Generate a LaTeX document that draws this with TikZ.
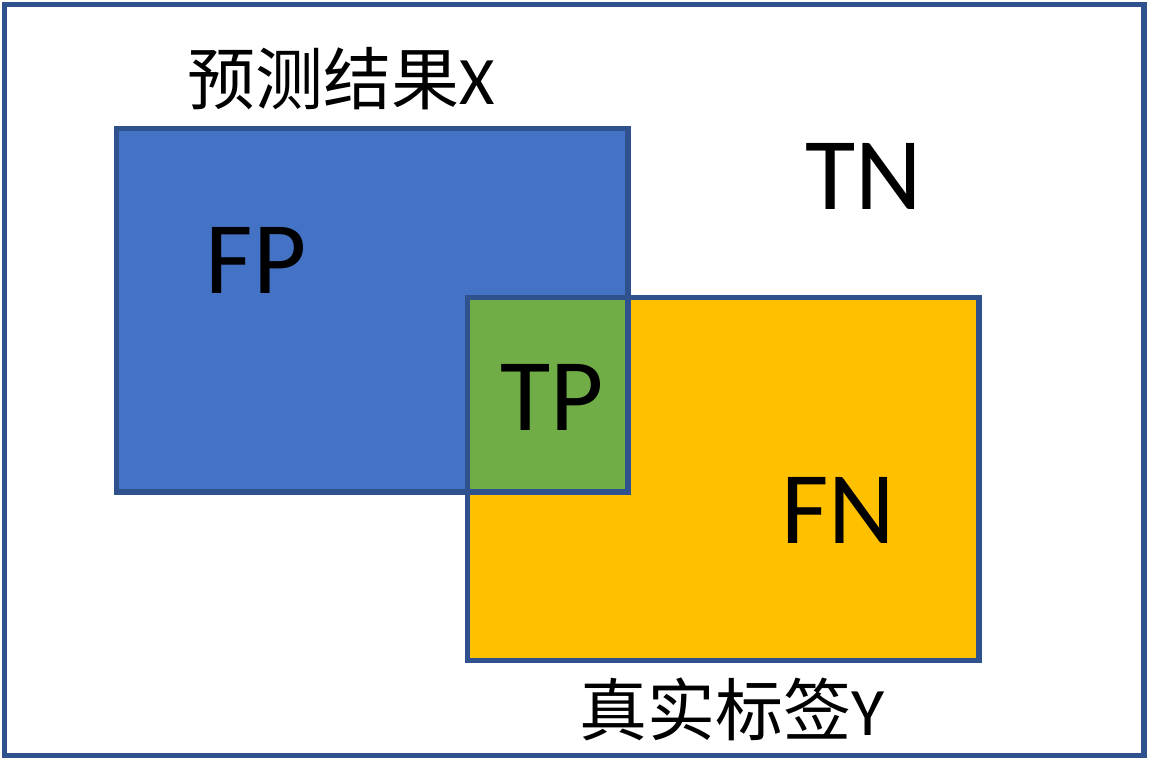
\documentclass[tikz,border=0pt]{standalone}
\usepackage{fontspec}
\setmainfont{Carlito}
\newfontfamily\cjk{Noto Sans CJK SC}
\definecolor{edgeblue}{HTML}{2F528F}
\definecolor{fillblue}{HTML}{4472C4}
\definecolor{fillyellow}{HTML}{FFC000}
\definecolor{fillgreen}{HTML}{70AD47}
\tikzset{
  edge/.style={draw=edgeblue, line width=5.5pt},
  bigtext/.style={anchor=base, inner sep=0pt, font=\fontsize{103}{110}\selectfont},
  titletext/.style={anchor=base, inner sep=0pt, font=\fontsize{68}{72}\selectfont},
}
\begin{document}
\begin{tikzpicture}[x=1pt, y=-1pt]
\useasboundingbox (0,0) rectangle (1150,762);
\fill[white] (0,0) rectangle (1150,762);
% corners
\coordinate (o1) at (4.5,4.5);   \coordinate (o2) at (1144,755.5);
\coordinate (b1) at (116.5,128.5); \coordinate (b2) at (628,492);
\coordinate (y1) at (467.5,297.5); \coordinate (y2) at (979,660.5);
% fills
\fill[fillblue] (b1) rectangle (b2);
\fill[fillyellow] (y1) rectangle (y2);
\fill[fillgreen] (y1) rectangle (b2);
% outlines
\draw[edge] (o1) rectangle (o2);
\draw[edge] (b1) rectangle (b2);
\draw[edge] (y1) rectangle (y2);
% labels
\node[titletext] (px) at (341.5,105) {{\cjk 预测结果}X};
\node[titletext] (ty) at (732,735) {{\cjk 真实标签}Y};
\node[bigtext] (tn) at (863.5,209) {TN};
\node[bigtext] (fp) at (256,293) {FP};
\node[bigtext] (tp) at (552,430) {TP};
\node[bigtext] (fn) at (838.5,543) {FN};
\end{tikzpicture}
\end{document}
